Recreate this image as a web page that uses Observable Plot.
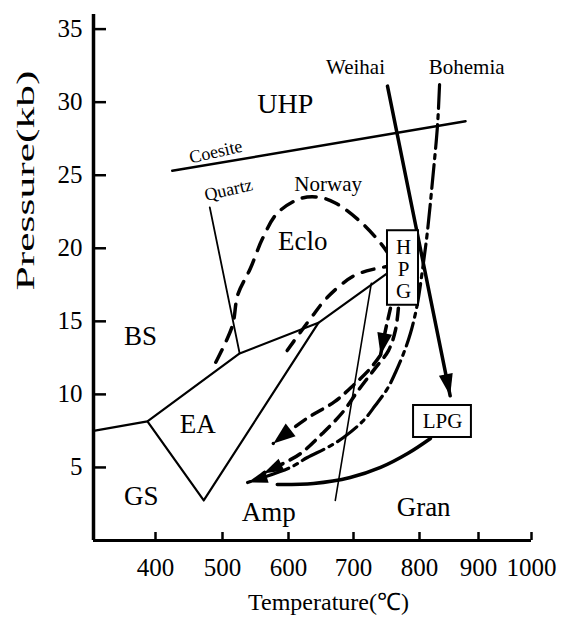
<!DOCTYPE html>
<html><head><meta charset="utf-8">
<script src="https://cdn.jsdelivr.net/npm/d3@7"></script>
<script src="https://cdn.jsdelivr.net/npm/@observablehq/plot@0.6"></script>
<style>body{margin:0;background:#fff}</style>
</head><body><div id="chart"></div>
<script>
// ---- axis ticks ----
const tempTicks = [400, 500, 600, 700, 800, 900, 1000];
const pressTicks = [5, 10, 15, 20, 25, 30, 35];
const tempBreaks = [300, 400, 500, 600, 700, 800, 900, 1000];

// ---- reaction / facies boundaries [T (°C), P (kb)] ----
const coesite = [[425, 25.3], [878, 28.7]];
const quartz = [[481, 22.8], [526, 12.8]];
const bsBoundary = [[300, 7.5], [387, 8.15], [526, 12.8], [646, 14.9], [751.5, 18.3]];
const eaBoundary = [[387, 8.15], [472, 2.74], [646, 14.9]];
const solidus = [[727, 17.6], [672, 2.74]];

// ---- P-T paths ----
const norwayOuter = [[490, 12.2], [515, 14.7], [523, 16.8], [542, 18.6], [561, 20.7], [583, 22.4], [618, 23.4], [646, 23.5], [672, 23.1], [711, 21.8], [742, 20.3], [751.5, 19.7]];
const norwayInner = [[598, 13.0], [634, 15.2], [661, 16.7], [700, 18.1], [733, 18.6], [751.5, 18.75]];
const weihai = [[751.5, 31.1], [852, 9.9]];
const weihaiRetro = [[818.6, 6.98], [782, 5.95], [741, 5.0], [695, 4.31], [638.5, 3.9], [583, 3.83]];
const bohemia = [[834, 31.2], [830.5, 28.4], [822, 24.6], [813.6, 21.2], [805, 18.5], [796.4, 16.1], [786.4, 14.2], [775.8, 12.8], [763.6, 11.5], [751.5, 10.4], [733, 9.24], [715, 8.21], [684.6, 7.05], [660, 6.37], [629, 5.68], [603, 5.0], [538, 3.97]];
const retroA1 = [[756, 15.9], [748.5, 14.4], [741, 12.7]];
const retroA2 = [[741, 12.7], [726, 11.8], [701.5, 10.7], [671, 9.5], [628, 8.35], [577, 6.64]];
const retroB = [[768, 15.9], [763.6, 14.4], [753, 13.0], [733, 11.8], [707.6, 10.3], [683, 8.76], [652, 7.32], [618.5, 5.95], [592, 5.27], [562, 4.59]];

// ---- labels ----
const faciesNames = ["Eclo", "BS", "EA", "GS", "Amp", "Gran"];
const faciesT = [622, 376, 463, 377, 570, 807];
const faciesP = [20.5, 14.0, 7.94, 3.0, 1.92, 2.26];
const uhpName = ["UHP"], uhpT = [595], uhpP = [29.9];
const pathNames = ["Weihai", "Bohemia", "Norway"];
const pathNameT = [703, 880, 661];
const pathNameP = [32.4, 32.4, 24.4];
const reactionNames = ["Coesite", "Quartz"];
const reactionT = [490, 509];
const reactionP = [26.6, 24.0];
const boxNames = ["H\nP\nG", "LPG"];
const boxT1 = [751.5, 791], boxT2 = [798.5, 888];
const boxP1 = [16.1, 7.05], boxP2 = [21.2, 9.24];
const boxCT = [776, 839], boxCP = [18.6, 8.15];

const idx = (arr) => arr.map((_, i) => i);

function filledArrow(len, wid) {
  return (color, context) => {
    const doc = (context && context.document) || document;
    const ns = "http://www.w3.org/2000/svg";
    const m = doc.createElementNS(ns, "marker");
    m.setAttribute("viewBox", `${-len} ${-wid / 2} ${len} ${wid}`);
    m.setAttribute("markerUnits", "userSpaceOnUse");
    m.setAttribute("markerWidth", len);
    m.setAttribute("markerHeight", wid);
    m.setAttribute("refX", 0);
    m.setAttribute("refY", 0);
    m.setAttribute("orient", "auto");
    m.setAttribute("overflow", "visible");
    const p = doc.createElementNS(ns, "path");
    p.setAttribute("d", `M${-len},${-wid / 2}L0,0L${-len},${wid / 2}Z`);
    p.setAttribute("fill", "black");
    p.setAttribute("stroke", "none");
    p.setAttribute("stroke-dasharray", "none");
    m.appendChild(p);
    return m;
  };
}

const serif = "Liberation Serif";
const chart = Plot.plot({
  width: 563,
  height: 623,
  marginLeft: 93,
  marginRight: 32,
  marginTop: 14,
  marginBottom: 83,
  style: {fontFamily: serif, fontSize: "25px", color: "black", background: "white"},
  x: {type: "linear", domain: tempBreaks, range: [93, 155, 222, 288, 353, 419, 478, 531]},
  y: {domain: [0, 36]},
  marks: [
    Plot.axisX({ticks: tempTicks, tickSize: -8, tickPadding: 26, tickFormat: d => String(d), strokeWidth: 2.5, label: null}),
    Plot.axisY({ticks: pressTicks, tickSize: -13, tickPadding: 24, tickFormat: d => String(d), strokeWidth: 2.5, label: null}),
    Plot.ruleX([300], {strokeWidth: 3.5}),
    Plot.ruleY([0], {strokeWidth: 3}),
    // boundaries
    Plot.line(coesite, {strokeWidth: 2.5}),
    Plot.line(quartz, {strokeWidth: 1.8}),
    Plot.line(bsBoundary, {strokeWidth: 2.2}),
    Plot.line(eaBoundary, {strokeWidth: 2.2}),
    Plot.line(solidus, {strokeWidth: 1.6}),
    // paths
    Plot.line(norwayOuter, {curve: "catmull-rom", strokeWidth: 3.5, strokeDasharray: "14,10"}),
    Plot.line(norwayInner, {curve: "catmull-rom", strokeWidth: 3.5, strokeDasharray: "12,10"}),
    Plot.line(weihai, {strokeWidth: 3.5, markerEnd: filledArrow(22, 14)}),
    Plot.line(weihaiRetro, {curve: "catmull-rom", strokeWidth: 3.5}),
    Plot.line(bohemia, {curve: "catmull-rom", strokeWidth: 3.2, strokeDasharray: "24,6,4,6", markerEnd: filledArrow(20, 13)}),
    Plot.line(retroA1, {curve: "catmull-rom", strokeWidth: 3.5, strokeDasharray: "11,7", markerEnd: filledArrow(22, 15)}),
    Plot.line(retroA2, {curve: "catmull-rom", strokeWidth: 3.5, strokeDasharray: "12,8", markerEnd: filledArrow(22, 16)}),
    Plot.line(retroB, {curve: "catmull-rom", strokeWidth: 3.5, strokeDasharray: "12,8", markerEnd: filledArrow(20, 13)}),
    // boxes
    Plot.rect(idx(boxNames), {x1: i => boxT1[i], x2: i => boxT2[i], y1: i => boxP1[i], y2: i => boxP2[i], fill: "white", stroke: "black", strokeWidth: 2}),
    Plot.text(idx(boxNames), {x: i => boxCT[i], y: i => boxCP[i], text: i => boxNames[i], fontSize: 21, lineHeight: 1.05}),
    // labels
    Plot.text(idx(faciesNames), {x: i => faciesT[i], y: i => faciesP[i], text: i => faciesNames[i], fontSize: 27}),
    Plot.text(idx(uhpName), {x: i => uhpT[i], y: i => uhpP[i], text: i => uhpName[i], fontSize: 28}),
    Plot.text(idx(pathNames), {x: i => pathNameT[i], y: i => pathNameP[i], text: i => pathNames[i], fontSize: 21}),
    Plot.text(idx(reactionNames), {x: i => reactionT[i], y: i => reactionP[i], text: i => reactionNames[i], fontSize: 18, rotate: -13}),
    // axis titles
    Plot.text(["Temperature(℃)"], {frameAnchor: "bottom", text: d => d, dx: 16, dy: 69, fontSize: 24}),
    Plot.text(["Pressure(kb)"], {frameAnchor: "left", text: d => d, rotate: -90, dx: -68, dy: 13, fontSize: 26})
  ]
});

d3.select(chart).selectAll("text").filter(function () { return this.textContent === "Pressure(kb)"; })
  .attr("textLength", 220).attr("lengthAdjust", "spacingAndGlyphs");

document.getElementById("chart").appendChild(chart);
</script></body></html>
